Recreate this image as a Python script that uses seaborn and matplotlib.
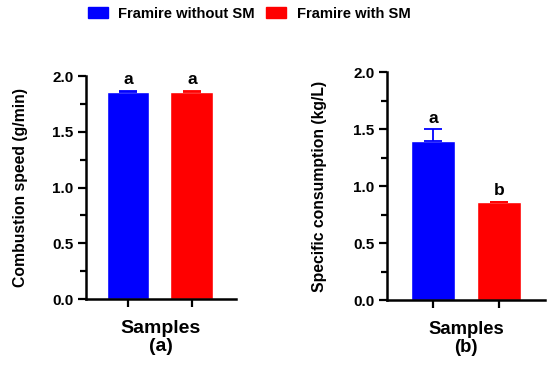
import matplotlib
matplotlib.use("Agg")
import matplotlib.pyplot as plt
import seaborn as sns
import pandas as pd
from matplotlib.patches import Patch
from matplotlib.ticker import MultipleLocator

samples = ["Framire without SM", "Framire with SM"]
colors = ["#0000FF", "#FF0000"]
speed = [1.855, 1.855]
speed_err = [0.015, 0.015]
speed_letters = ["a", "a"]
spec = [1.395, 0.86]
spec_err = [0.105, 0.003]
spec_letters = ["a", "b"]

sns.set_theme(style="ticks")
plt.rcParams['font.family'] = ['Liberation Sans', 'DejaVu Sans']
plt.rcParams['font.weight'] = 'bold'
plt.rcParams['text.color'] = 'black'
plt.rcParams['axes.labelcolor'] = 'black'
plt.rcParams['xtick.color'] = 'black'
plt.rcParams['ytick.color'] = 'black'

fig = plt.figure(figsize=(5.5, 3.66), dpi=100)
ax1 = fig.add_axes([0.156, 0.183, 0.273, 0.609])
ax2 = fig.add_axes([0.704, 0.180, 0.287, 0.623])

def panel(ax, vals, errs, letters, ylabel, tag, xlim, lpad, xfs):
    df = pd.DataFrame({"Sample": samples, "Value": vals})
    sns.barplot(data=df, x="Sample", y="Value", hue="Sample", palette=colors,
                order=samples, hue_order=samples, width=0.67, ax=ax,
                legend=False, errorbar=None, saturation=1)
    for i, (v, e) in enumerate(zip(vals, errs)):
        ax.errorbar(i, v, yerr=[[0], [e]], color=colors[i], capsize=6.5,
                    elinewidth=1.3, capthick=1.3, fmt="none")
    for i, (v, e, t) in enumerate(zip(vals, errs, letters)):
        ax.text(i, v + e + 0.03, t, ha="center", va="bottom",
                fontsize=12.5, fontweight="bold", color="black")
    ax.set_ylim(0, 2.0)
    ax.set_xlim(*xlim)
    ax.yaxis.set_minor_locator(MultipleLocator(0.25))
    ax.set_yticks([0, 0.5, 1.0, 1.5, 2.0])
    ax.set_yticklabels(["0.0", "0.5", "1.0", "1.5", "2.0"], fontsize=11, fontweight="bold")
    ax.set_xticks([0, 1])
    ax.set_xticklabels(["", ""])
    ax.tick_params(axis="both", which="major", direction="out", length=6, width=1.6, color="black", pad=3)
    ax.tick_params(axis="y", which="minor", direction="out", length=4, width=1.6, color="black")
    ax.set_ylabel(ylabel, fontsize=11.3, fontweight="bold", labelpad=lpad)
    ax.set_xlabel("Samples\n(" + tag + ")", fontsize=xfs, fontweight="bold", labelpad=6, linespacing=1.1)
    sns.despine(ax=ax)
    for s in ["left", "bottom"]:
        ax.spines[s].set_linewidth(1.8)
        ax.spines[s].set_color("black")

panel(ax1, speed, speed_err, speed_letters, "Combustion speed (g/min)", "a", (-0.66, 1.69), 17.5, 14)
panel(ax2, spec, spec_err, spec_letters, "Specific consumption (kg/L)", "b", (-0.70, 1.70), 19, 13.3)

handles = [Patch(facecolor=c, edgecolor=c) for c in colors]
fig.legend(handles, samples, loc="center", bbox_to_anchor=(0.453, 0.963), ncol=2,
           frameon=False, prop={"weight": "bold", "size": 10.6},
           handlelength=1.36, handleheight=0.7, columnspacing=0.8, handletextpad=0.7)

fig.savefig("out.png", dpi=100)
